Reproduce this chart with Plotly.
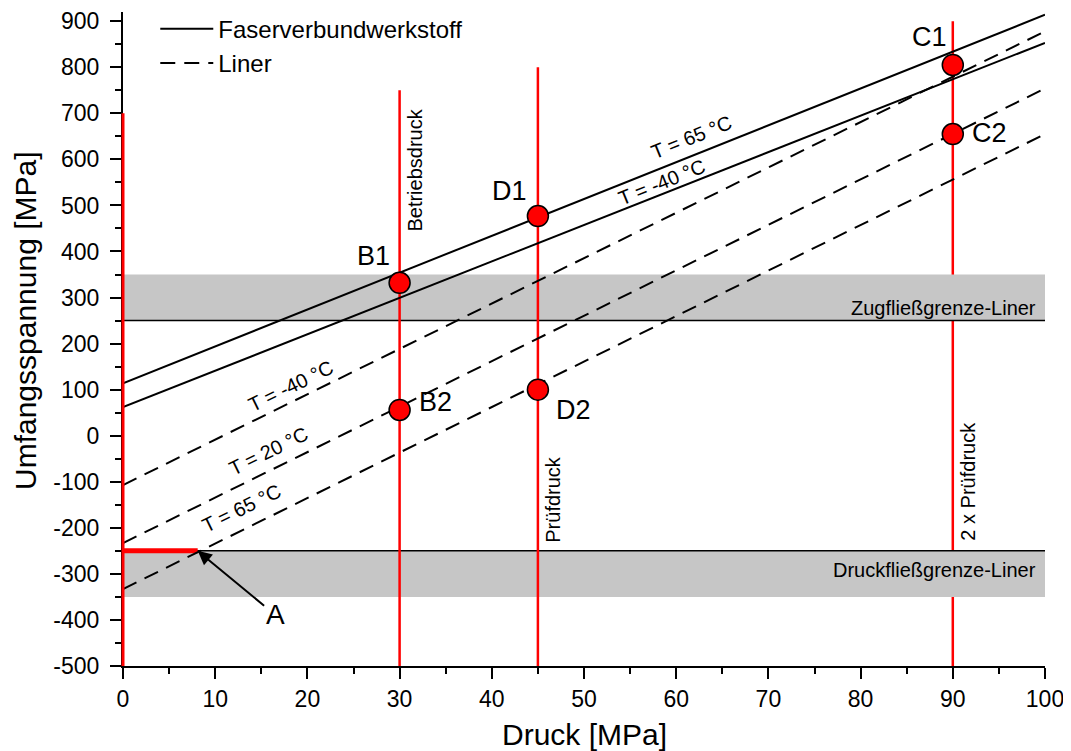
import plotly.graph_objects as go

# ---------------- data ----------------
x_span = [0, 100]
fvw_names = ["T = 65 °C", "T = -40 °C"]          # Faserverbundwerkstoff
fvw_y0 = [114, 62]                               # stress at 0 MPa
fvw_y1 = [914, 853]                              # stress at 100 MPa
liner_names = ["T = -40 °C", "T = 20 °C", "T = 65 °C"]
liner_y0 = [-107, -233, -333]
liner_y1 = [878, 754, 655]
limit_names = ["Zugfließgrenze-Liner", "Druckfließgrenze-Liner"]
limit_y = [250, -250]
band_lo = [250, -350]
band_hi = [350, -250]
ref_names = ["Betriebsdruck", "Prüfdruck", "2 x Prüfdruck"]
ref_x = [30, 45, 90]
ref_top = [750, 800, 900]
zero_x = 0
zero_top = 700
y_floor = -500
pt_names = ["B1", "B2", "D1", "D2", "C1", "C2"]
pt_x = [30, 30, 45, 45, 90, 90]
pt_y = [332, 56, 477, 100, 805, 655]
a_x = 8.1
a_y = -250
x_ticks = [0, 10, 20, 30, 40, 50, 60, 70, 80, 90, 100]
x_ticklabels = ["0", "10", "20", "30", "40", "50", "60", "70", "80", "90", "100"]
x_minor = [5, 15, 25, 35, 45, 55, 65, 75, 85, 95]
y_ticks = [-500, -400, -300, -200, -100, 0, 100, 200, 300, 400, 500, 600, 700, 800, 900]
y_ticklabels = ["-500", "-400", "-300", "-200", "-100", "0", "100", "200", "300",
                "400", "500", "600", "700", "800", "900"]
y_minor = [-450, -350, -250, -150, -50, 50, 150, 250, 350, 450, 550, 650, 750, 850]

FONT = "Liberation Sans, Arial, sans-serif"
RED = "#ff0000"
X_RANGE = [0, 100]
Y_RANGE = [-500, 920]

fig = go.Figure()

# red line at 2 x Prüfdruck (lies under the grey bands)
fig.add_trace(go.Scatter(x=[ref_x[2], ref_x[2]], y=[y_floor, ref_top[2]], mode="lines",
                         line=dict(color=RED, width=2.5), showlegend=False, hoverinfo="skip"))

# grey bands
for lo, hi in zip(band_lo, band_hi):
    fig.add_trace(go.Scatter(x=[x_span[0], x_span[1], x_span[1], x_span[0], x_span[0]],
                             y=[lo, lo, hi, hi, lo], mode="lines", fill="toself",
                             fillcolor="#c6c6c6", line=dict(width=0), showlegend=False,
                             hoverinfo="skip"))

# yield limits
for yv in limit_y:
    fig.add_trace(go.Scatter(x=x_span, y=[yv, yv], mode="lines",
                             line=dict(color="black", width=1.5), showlegend=False,
                             hoverinfo="skip"))

# red reference lines (Betriebsdruck, Prüfdruck)
for xv, top in zip(ref_x[:2], ref_top[:2]):
    fig.add_trace(go.Scatter(x=[xv, xv], y=[y_floor, top], mode="lines",
                             line=dict(color=RED, width=2.5), showlegend=False,
                             hoverinfo="skip"))

# thick red segment to point A
fig.add_trace(go.Scatter(x=[zero_x, a_x], y=[a_y, a_y], mode="lines",
                         line=dict(color=RED, width=5), showlegend=False, hoverinfo="skip"))

# composite lines
for i, (y0, y1) in enumerate(zip(fvw_y0, fvw_y1)):
    fig.add_trace(go.Scatter(x=x_span, y=[y0, y1], mode="lines",
                             line=dict(color="black", width=2),
                             name="Faserverbundwerkstoff",
                             showlegend=(i == 0), hoverinfo="skip"))

# liner lines
for i, (y0, y1) in enumerate(zip(liner_y0, liner_y1)):
    fig.add_trace(go.Scatter(x=x_span, y=[y0, y1], mode="lines",
                             line=dict(color="black", width=2, dash="15px,9px"),
                             name="Liner",
                             showlegend=(i == 0), hoverinfo="skip"))

# points
fig.add_trace(go.Scatter(x=pt_x, y=pt_y, mode="markers",
                         marker=dict(color=RED, size=21, line=dict(color="black", width=1.5)),
                         showlegend=False, hoverinfo="skip"))

# red line on the stress axis (x = 0), drawn unclipped so it covers the axis line
x0_dom = (zero_x - X_RANGE[0]) / (X_RANGE[1] - X_RANGE[0])
fig.add_shape(type="line", xref="x domain", yref="y", x0=x0_dom, x1=x0_dom,
              y0=y_floor, y1=zero_top, line=dict(color=RED, width=3), layer="above")

ann = []
# point labels
pt_shift = [(-26, 27), (36, 8), (-28, 25), (36, -20), (-23, 28), (37, 1)]
for n, xv, yv, (dx, dy) in zip(pt_names, pt_x, pt_y, pt_shift):
    ann.append(dict(x=xv, y=yv, text=n, showarrow=False, xshift=dx, yshift=dy,
                    font=dict(size=27, color="black", family=FONT)))

# reference pressure labels (rotated)
ref_label_y = [577, -137, -98]
for n, xv, yv in zip(ref_names, ref_x, ref_label_y):
    ann.append(dict(x=xv, y=yv, text=n, showarrow=False, textangle=-90, xshift=15,
                    font=dict(size=20, color="black", family=FONT)))

# yield limit labels
limit_label_y = [278, -292]
for n, yv in zip(limit_names, limit_label_y):
    ann.append(dict(x=99.2, y=yv, text=n, showarrow=False, xanchor="right",
                    font=dict(size=20, color="black", family=FONT)))

# temperature labels on composite lines
fvw_label_pos = [(61.7, 648), (58.5, 551)]
for n, (xv, yv) in zip(fvw_names, fvw_label_pos):
    ann.append(dict(x=xv, y=yv, text=n, showarrow=False, textangle=-22,
                    font=dict(size=20, color="black", family=FONT)))

# temperature labels on liner lines
liner_label_pos = [(18.2, 108), (15.8, -33), (12.9, -157)]
for n, (xv, yv) in zip(liner_names, liner_label_pos):
    ann.append(dict(x=xv, y=yv, text=n, showarrow=False, textangle=-26,
                    font=dict(size=20, color="black", family=FONT)))

# point A with arrow
ann.append(dict(x=a_x, y=a_y, ax=16.5, ay=-389, axref="x", ayref="y", text="A",
                showarrow=True, arrowhead=2, arrowsize=1.4, arrowwidth=2, arrowcolor="black",
                standoff=0, font=dict(size=28, color="black", family=FONT)))

# axis titles
ann.append(dict(xref="paper", yref="paper", x=0.5, y=0, yanchor="top", yshift=-50,
                text="Druck [MPa]", showarrow=False,
                font=dict(size=30, color="black", family=FONT)))
ann.append(dict(xref="paper", yref="paper", x=0, y=0.5275, xanchor="center", xshift=-98,
                text="Umfangsspannung [MPa]", showarrow=False, textangle=-90,
                font=dict(size=30, color="black", family=FONT)))

axis_common = dict(showline=True, linecolor="black", linewidth=2, ticks="outside",
                   ticklen=11, tickwidth=2, tickcolor="black", showgrid=False,
                   zeroline=False, automargin=False,
                   tickfont=dict(size=23, color="black", family=FONT))

# the page body adds an 8 px offset, so the figure is 8 px smaller and margins compensate
fig.update_layout(
    template="none",
    width=1063, height=743,
    margin=dict(l=115, r=26, t=4, b=85, autoexpand=False),
    paper_bgcolor="white", plot_bgcolor="white",
    font=dict(family=FONT, color="black"),
    xaxis=dict(range=X_RANGE, tickmode="array", tickvals=x_ticks, ticktext=x_ticklabels,
               minor=dict(tickmode="array", tickvals=x_minor, ticks="outside", ticklen=6,
                          tickwidth=2, tickcolor="black"),
               ticklabelstandoff=0, **axis_common),
    yaxis=dict(range=Y_RANGE, tickmode="array", tickvals=y_ticks, ticktext=y_ticklabels,
               minor=dict(tickmode="array", tickvals=y_minor, ticks="outside", ticklen=6,
                          tickwidth=2, tickcolor="black"),
               ticklabelstandoff=6, **axis_common),
    legend=dict(x=0.035, y=1.008, xanchor="left", yanchor="top", bgcolor="rgba(0,0,0,0)",
                itemwidth=53,
                font=dict(size=24, color="black", family=FONT), tracegroupgap=0),
    annotations=ann,
)

fig.write_html("out.html")
